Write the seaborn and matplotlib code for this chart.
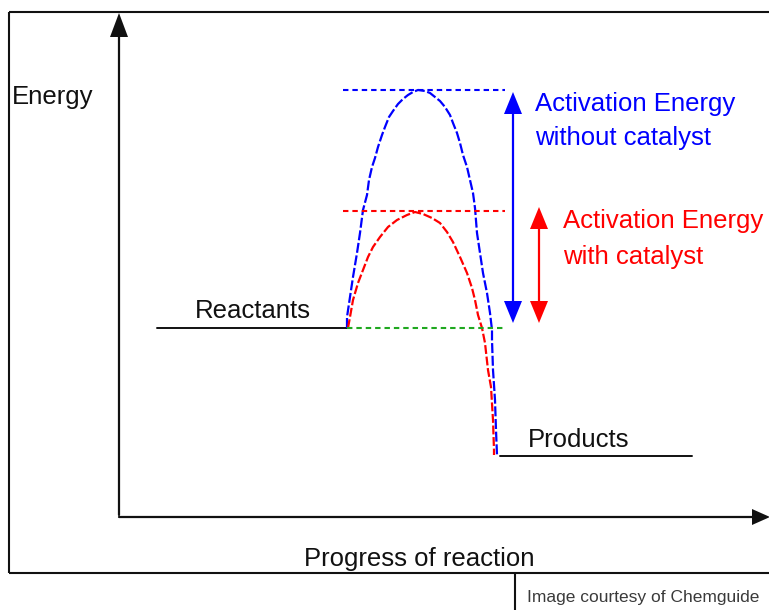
import numpy as np
import pandas as pd
import seaborn as sns
import matplotlib
matplotlib.use("Agg")
import matplotlib.pyplot as plt

sns.set_style("white")
plt.rcParams['font.family'] = ['Liberation Sans', 'DejaVu Sans']

# ---- data (progress of reaction, energy in arbitrary units) ----
reactant_energy = 189
product_energy = 61
peak_uncatalysed = 427
peak_catalysed = 306

reactant_progress = [38, 228]
product_progress = [381, 573]

blue_progress = [228, 228, 231, 234, 238, 241, 244, 248, 250, 253, 256, 259, 263,
                 266, 270, 274, 279, 284, 289, 294, 299, 306, 311, 316, 321, 326,
                 331, 334, 338, 341, 344, 348, 351, 354, 356, 358, 361, 364, 368,
                 371, 373, 373, 374, 376, 377, 378]
blue_energy = [189, 200, 220, 240, 264, 284, 307, 322, 337, 350, 359, 370, 382,
               390, 400, 406, 413, 418, 422, 425, 427, 426, 424, 420, 416, 410,
               402, 394, 384, 374, 362, 350, 337, 324, 309, 284, 264, 244, 224,
               204, 187, 177, 147, 117, 87, 62]

red_progress = [229, 231, 234, 239, 244, 249, 254, 261, 269, 278, 288, 296, 304,
                313, 321, 328, 334, 341, 348, 353, 356, 359, 363, 366, 369, 372,
                374, 375, 375]
red_energy = [189, 200, 217, 234, 247, 260, 270, 280, 290, 297, 302, 305, 303,
              299, 294, 285, 275, 260, 244, 229, 217, 202, 189, 174, 147, 130,
              97, 67, 62]

labels = {
    "y": "Energy",
    "x": "Progress of reaction",
    "reactants": "Reactants",
    "products": "Products",
    "uncat": ["Activation Energy", "without catalyst"],
    "cat": ["Activation Energy", "with catalyst"],
    "credit": "Image courtesy of Chemguide",
}

BLUE = "#0000ff"
RED = "#ff0000"
GREEN = "#1fa81f"
INK = "#111111"

fig = plt.figure(figsize=(7.69, 6.10), dpi=100)
ax = fig.add_axes([0, 0, 1, 1])
ax.set_xlim(-119, 650)
ax.set_ylim(-93, 517)
ax.axis("off")

# outer frame and credit box
frame_kw = dict(color=INK, lw=1.5, solid_capstyle="butt")
ax.plot([-110, 660], [505, 505], **frame_kw)
ax.plot([-110, -110], [505, -56], **frame_kw)
ax.plot([-110, 660], [-56, -56], **frame_kw)
ax.plot([396, 396], [-56, -100], **frame_kw)

# axes with arrow heads
ax.plot([0, 0], [2, 485], color=INK, lw=1.6)
ax.plot([0, 635], [0, 0], color=INK, lw=1.6)
ax.fill([0, -9, 9], [504, 480, 480], color=INK, lw=0)
ax.fill([651, 633, 633], [0, 8, -8], color=INK, lw=0)

# reactant / product levels
ax.plot(reactant_progress, [reactant_energy] * 2, color=INK, lw=1.4)
ax.plot(product_progress, [product_energy] * 2, color=INK, lw=1.4)

# energy profiles
df_blue = pd.DataFrame({"progress": blue_progress, "energy": blue_energy})
df_red = pd.DataFrame({"progress": red_progress, "energy": red_energy})
sns.lineplot(data=df_blue, x="progress", y="energy", sort=False, estimator=None,
             color=BLUE, lw=1.6, linestyle=(0, (4.5, 1.2)), ax=ax)
sns.lineplot(data=df_red, x="progress", y="energy", sort=False, estimator=None,
             color=RED, lw=1.6, linestyle=(0, (4, 1.2)), ax=ax)

# dotted reference levels
dash = (0, (2.6, 1.9))
ax.plot([224, 386], [peak_uncatalysed] * 2, color=BLUE, lw=1.5, linestyle=dash)
ax.plot([224, 386], [peak_catalysed] * 2, color=RED, lw=1.5, linestyle=dash)
ax.plot([228, 386], [reactant_energy] * 2, color=GREEN, lw=1.5, linestyle=dash)

# activation energy arrows
def double_arrow(x, top, bottom, color):
    hl, hw = 22, 9
    ax.plot([x, x], [bottom + hl - 2, top - hl + 2], color=color, lw=1.6)
    ax.fill([x, x - hw, x + hw], [top, top - hl, top - hl], color=color, lw=0)
    ax.fill([x, x - hw, x + hw], [bottom, bottom + hl, bottom + hl], color=color, lw=0)

double_arrow(394, peak_uncatalysed - 2, reactant_energy + 5, BLUE)
double_arrow(420, peak_catalysed + 4, reactant_energy + 5, RED)

fs = 18.5
ax.text(-107, 413, labels["y"], fontsize=fs, color=INK, va="baseline", ha="left")
ax.text(300, -49, labels["x"], fontsize=fs, color=INK, va="baseline", ha="center")
ax.text(76, 199, labels["reactants"], fontsize=fs, color=INK, va="baseline", ha="left")
ax.text(409, 70, labels["products"], fontsize=fs, color=INK, va="baseline", ha="left")
ax.text(416, 406, labels["uncat"][0], fontsize=fs, color=BLUE, va="baseline", ha="left")
ax.text(416, 372, labels["uncat"][1], fontsize=fs, color=BLUE, va="baseline", ha="left")
ax.text(444, 289, labels["cat"][0], fontsize=fs, color=RED, va="baseline", ha="left")
ax.text(444, 253, labels["cat"][1], fontsize=fs, color=RED, va="baseline", ha="left")
ax.text(408, -85, labels["credit"], fontsize=12.5, color="#3a3a3a", va="baseline", ha="left")

fig.savefig("out.png", dpi=100)
